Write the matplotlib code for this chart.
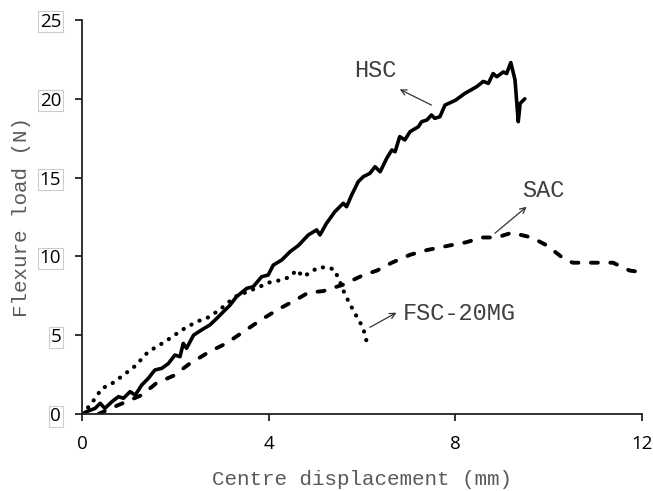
import matplotlib
matplotlib.use("Agg")
import matplotlib.pyplot as plt

# HSC (solid)
hsc_x = [0.0, 0.10, 0.28, 0.39, 0.49, 0.64, 0.78, 0.89, 1.03, 1.14, 1.28, 1.42, 1.56, 1.71, 1.85,
         1.99, 2.10, 2.17, 2.24, 2.39, 2.56, 2.74, 2.89, 3.03, 3.17, 3.31, 3.53, 3.67, 3.85, 3.99,
         4.10, 4.28, 4.46, 4.64, 4.85, 5.03, 5.10, 5.24, 5.42, 5.60, 5.67, 5.78, 5.92, 6.03, 6.17,
         6.28, 6.39, 6.53, 6.64, 6.71, 6.81, 6.92, 7.03, 7.21, 7.28, 7.39, 7.49, 7.56, 7.67, 7.78,
         8.00, 8.21, 8.46, 8.60, 8.71, 8.81, 8.89, 9.03, 9.10, 9.19, 9.28, 9.35, 9.39, 9.49]
hsc_y = [0.0, 0.15, 0.36, 0.68, 0.36, 0.78, 1.10, 1.00, 1.42, 1.20, 1.84, 2.26, 2.79, 2.90, 3.20,
         3.74, 3.64, 4.48, 4.17, 5.00, 5.33, 5.65, 6.07, 6.49, 6.90, 7.44, 7.97, 8.08, 8.71, 8.82,
         9.45, 9.77, 10.30, 10.70, 11.36, 11.68, 11.36, 12.10, 12.84, 13.37, 13.15, 13.90, 14.74, 15.06, 15.27,
         15.69, 15.37, 16.22, 16.75, 16.64, 17.60, 17.39, 17.91, 18.23, 18.55, 18.65, 18.97, 18.76, 18.86, 19.60,
         19.90, 20.35, 20.77, 21.10, 20.98, 21.60, 21.40, 21.70, 21.60, 22.30, 21.20, 18.55, 19.70, 20.00]

# SAC (dashed)
sac_x = [0.35, 0.78, 1.28, 1.59, 1.96, 2.31, 2.73, 3.09, 3.45, 3.85, 4.24, 4.56, 4.85, 5.17, 5.59,
         6.02, 6.32, 6.64, 7.03, 7.39, 7.89, 8.24, 8.57, 8.89, 9.21, 9.64, 9.96, 10.35, 10.52, 10.95,
         11.38, 11.74, 12.00]
sac_y = [0.0, 0.57, 1.20, 1.95, 2.43, 3.20, 3.95, 4.48, 5.20, 6.00, 6.70, 7.20, 7.70, 7.80, 8.20,
         8.80, 9.10, 9.60, 10.10, 10.40, 10.70, 10.90, 11.20, 11.20, 11.50, 11.20, 10.70, 9.80, 9.60, 9.60,
         9.60, 9.10, 9.00]

# FSC-20MG (dotted)
fsc_x = [0.0, 0.06, 0.31, 0.42, 0.60, 0.89, 1.14, 1.42, 1.78, 2.14, 2.46, 2.74, 3.03, 3.28, 3.81,
         4.06, 4.28, 4.46, 4.60, 4.74, 4.92, 5.06, 5.28, 5.42, 5.49, 5.56, 5.64, 5.74, 5.81, 5.89,
         5.99, 6.06, 6.10]
fsc_y = [0.0, 0.15, 1.10, 1.63, 1.84, 2.47, 3.05, 3.95, 4.59, 5.33, 5.86, 6.17, 6.81, 7.44, 8.08,
         8.40, 8.50, 8.71, 9.14, 8.71, 9.03, 9.30, 9.30, 9.14, 8.61, 8.18, 7.55, 7.00, 6.60, 6.17,
         5.65, 5.12, 4.59]

x_ticks = [0, 4, 8, 12]
y_ticks = [0, 5, 10, 15, 20, 25]

mono = "Liberation Mono"
gray = "#5a5a5a"

fig = plt.figure(figsize=(6.53, 4.91), dpi=100)
ax = fig.add_axes([0.1256, 0.1568, 0.8574, 0.8025])

ax.plot(hsc_x, hsc_y, color="black", lw=2.6, solid_joinstyle="round", solid_capstyle="round")
ax.plot(sac_x, sac_y, color="black", lw=2.8, linestyle=(0, (1.8, 3.2)), dash_capstyle="round")
ax.plot(fsc_x, fsc_y, color="black", lw=3.0, linestyle=(0, (0.05, 2.1)), dash_capstyle="round")

ax.set_xlim(0, 12)
ax.set_ylim(0, 25)
ax.set_xticks(x_ticks)
ax.set_yticks(y_ticks)
for s in ["top", "right"]:
    ax.spines[s].set_visible(False)
for s in ["left", "bottom"]:
    ax.spines[s].set_linewidth(1.3)
    ax.spines[s].set_color("#222222")
ax.tick_params(direction="out", length=5, width=1.3, color="#222222")
ax.tick_params(axis="x", pad=10)
ax.tick_params(axis="y", pad=10)

for lab in ax.get_xticklabels():
    lab.set_fontfamily("Open Sans")
    lab.set_fontsize(13.5)
for lab in ax.get_yticklabels():
    lab.set_fontfamily("Open Sans")
    lab.set_fontsize(13.5)
    lab.set_bbox(dict(boxstyle="square,pad=0.08", fc="white", ec="#cccccc", lw=0.8))

ax.set_xlabel("Centre displacement (mm)", fontfamily=mono, fontsize=15, color=gray, labelpad=12)
ax.set_ylabel("Flexure load (N)", fontfamily=mono, fontsize=15, color=gray, labelpad=6)

arrow = dict(arrowstyle="->", color="#333333", lw=0.9, shrinkA=0, shrinkB=0)
ax.annotate("", xy=(6.81, 20.6), xytext=(7.49, 19.6), arrowprops=arrow)
ax.text(6.29, 21.8, "HSC", fontfamily=mono, fontsize=17, color="#404040", ha="center", va="center")
ax.annotate("", xy=(9.53, 13.15), xytext=(8.85, 11.47), arrowprops=arrow)
ax.text(9.88, 14.2, "SAC", fontfamily=mono, fontsize=17, color="#404040", ha="center", va="center")
ax.annotate("", xy=(6.74, 6.43), xytext=(6.17, 5.5), arrowprops=arrow)
ax.text(6.88, 6.39, "FSC-20MG", fontfamily=mono, fontsize=17, color="#404040", ha="left", va="center")

fig.savefig("out.png", dpi=100)
